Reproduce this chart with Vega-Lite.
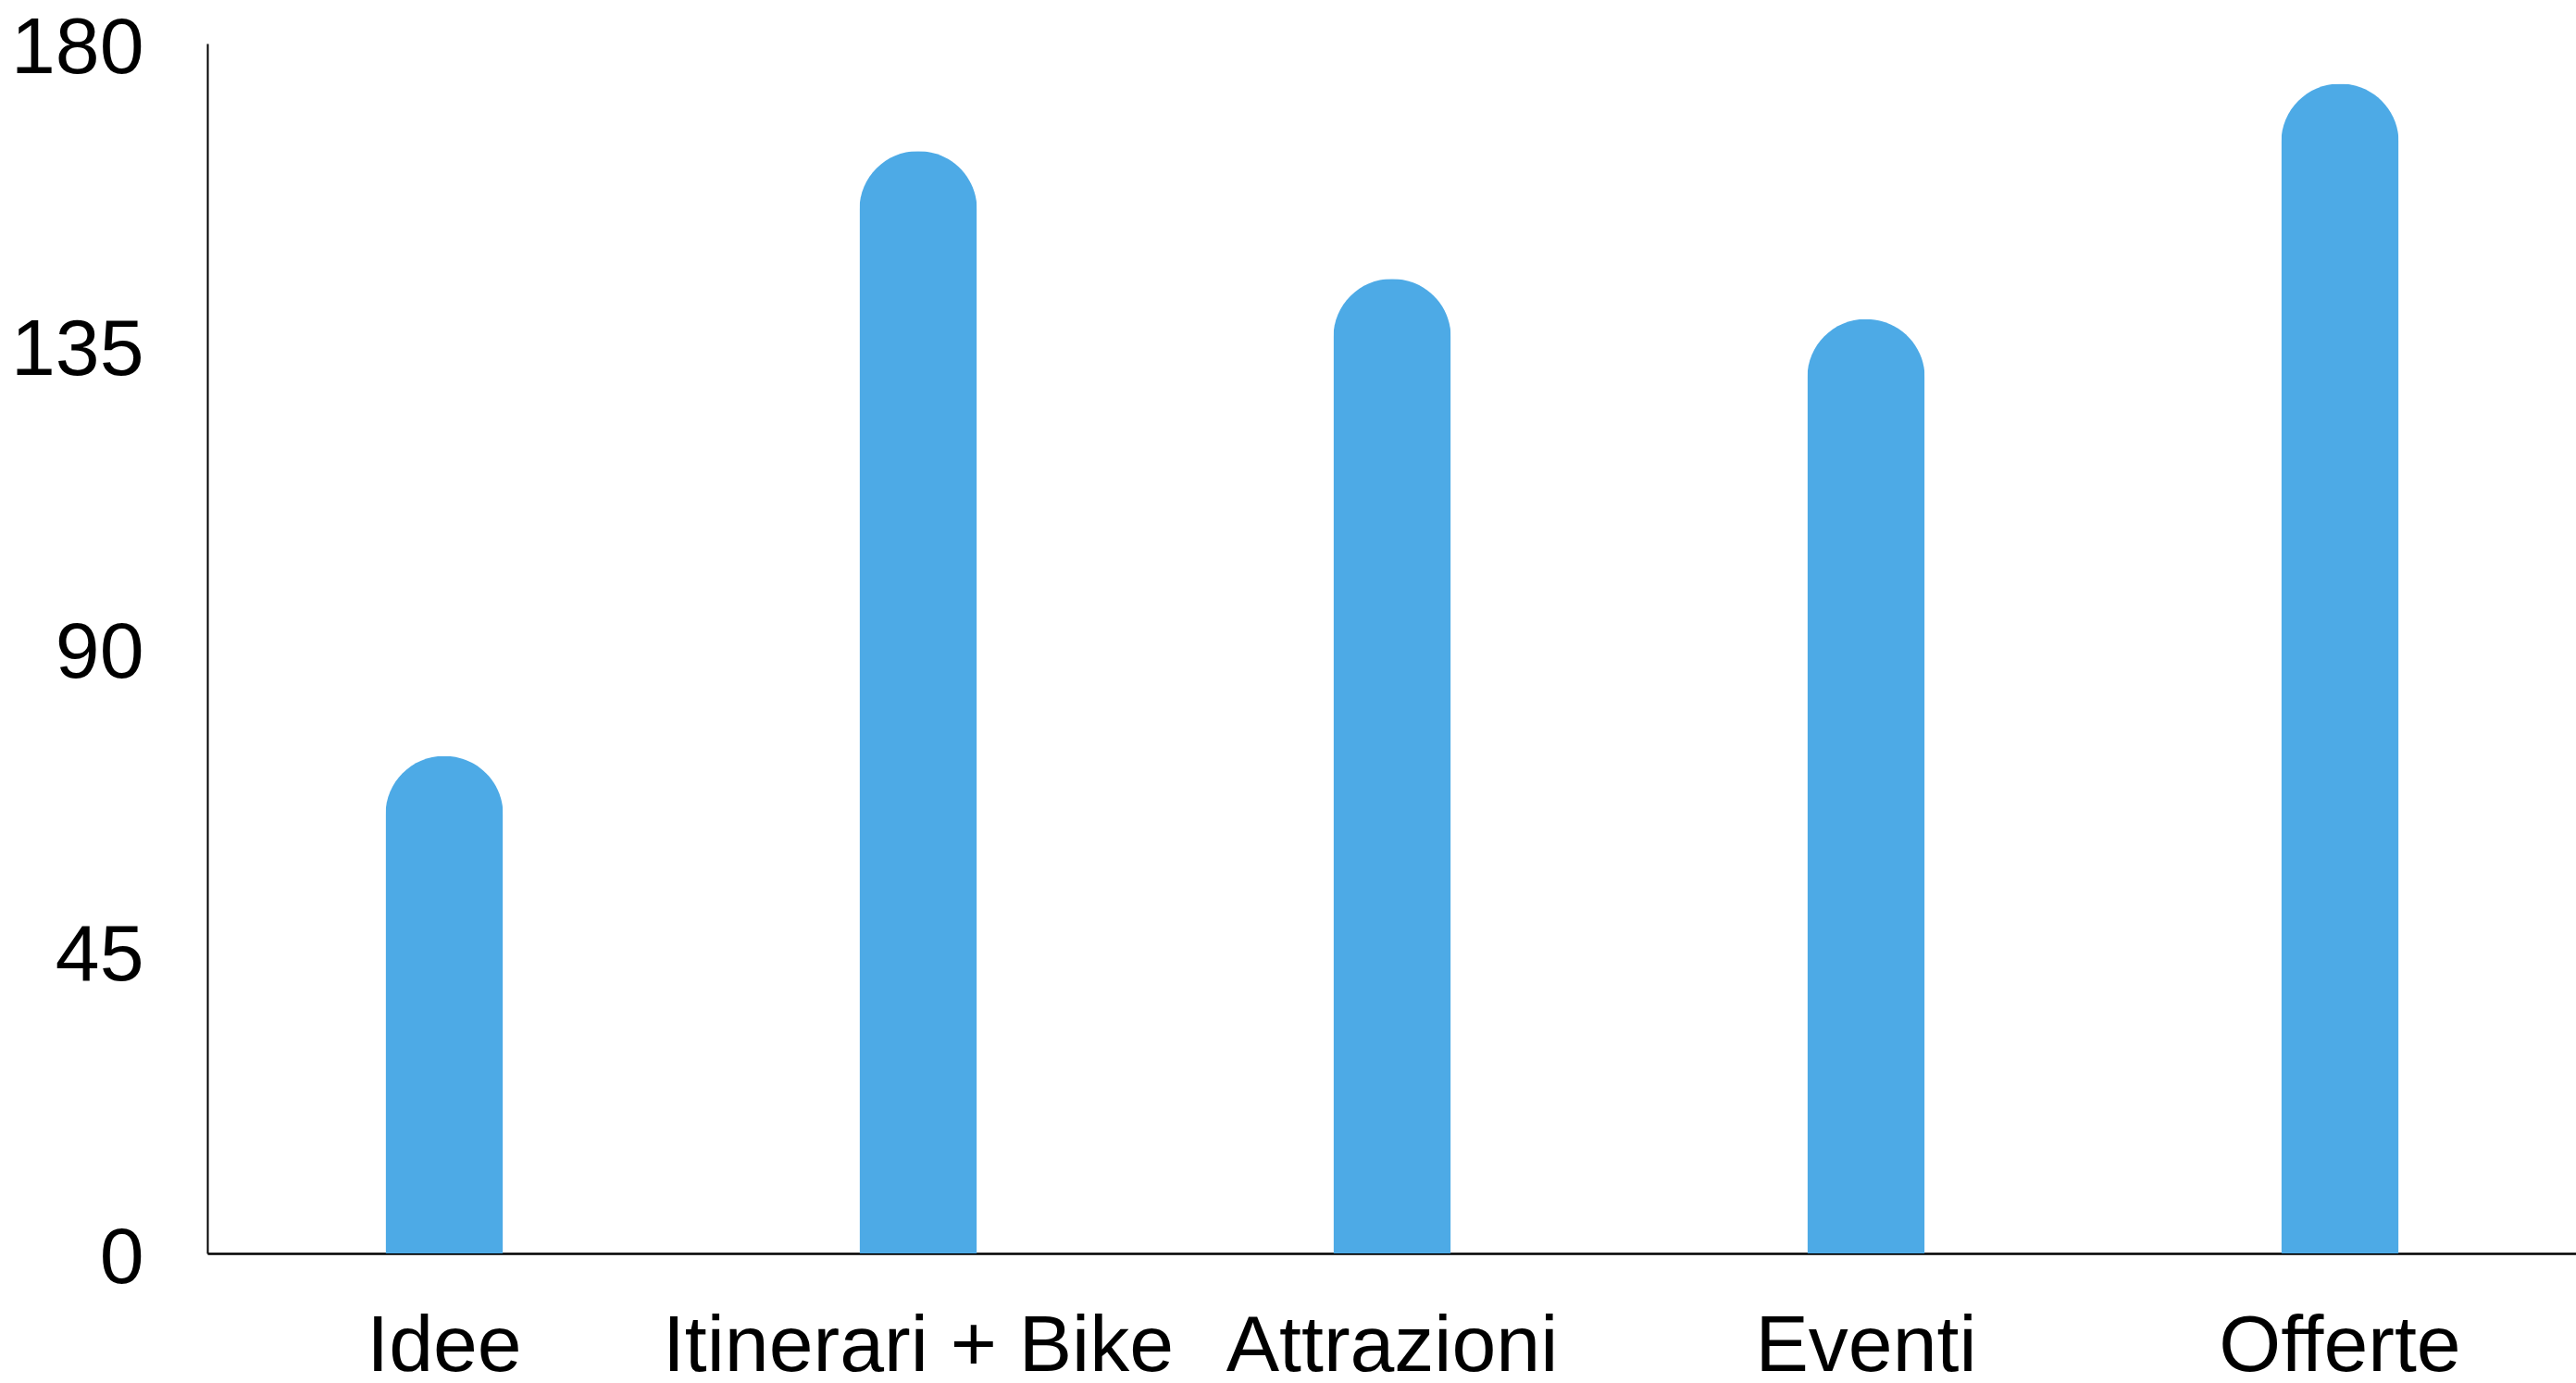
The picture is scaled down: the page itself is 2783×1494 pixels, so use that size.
{
  "$schema": "https://vega.github.io/schema/vega-lite/v6.json",
  "width": 2560,
  "height": 1307,
  "autosize": {"type": "none"},
  "padding": {"left": 224, "top": 47, "right": 0, "bottom": 140},
  "background": "white",
  "config": {"view": {"stroke": null}},
  "data": {
    "values": [
      {"categoria": "Idee", "valore": 74},
      {"categoria": "Itinerari + Bike", "valore": 164},
      {"categoria": "Attrazioni", "valore": 145},
      {"categoria": "Eventi", "valore": 139},
      {"categoria": "Offerte", "valore": 174}
    ]
  },
  "mark": {"type": "bar", "width": 127, "color": "#4DAAE6", "cornerRadiusTopLeft": 63, "cornerRadiusTopRight": 63},
  "encoding": {
    "x": {
      "field": "categoria",
      "type": "nominal",
      "sort": null,
      "scale": {"paddingInner": 0, "paddingOuter": 0},
      "axis": {
        "title": null,
        "labelAngle": 0,
        "labelFont": "Liberation Sans",
        "labelFontSize": 86,
        "labelColor": "black",
        "labelPadding": 58,
        "labelLimit": 0,
        "labelOverlap": false,
        "ticks": false,
        "domainColor": "black",
        "domainWidth": 2.5,
        "grid": false
      }
    },
    "y": {
      "field": "valore",
      "type": "quantitative",
      "scale": {"domain": [0, 180], "nice": false},
      "axis": {
        "title": null,
        "values": [0, 45, 90, 135, 180],
        "labelFont": "Liberation Sans",
        "labelFontSize": 86,
        "labelColor": "black",
        "labelPadding": 69,
        "labelOffset": 5,
        "labelOverlap": false,
        "ticks": false,
        "domainColor": "black",
        "domainWidth": 2,
        "grid": false
      }
    }
  }
}
